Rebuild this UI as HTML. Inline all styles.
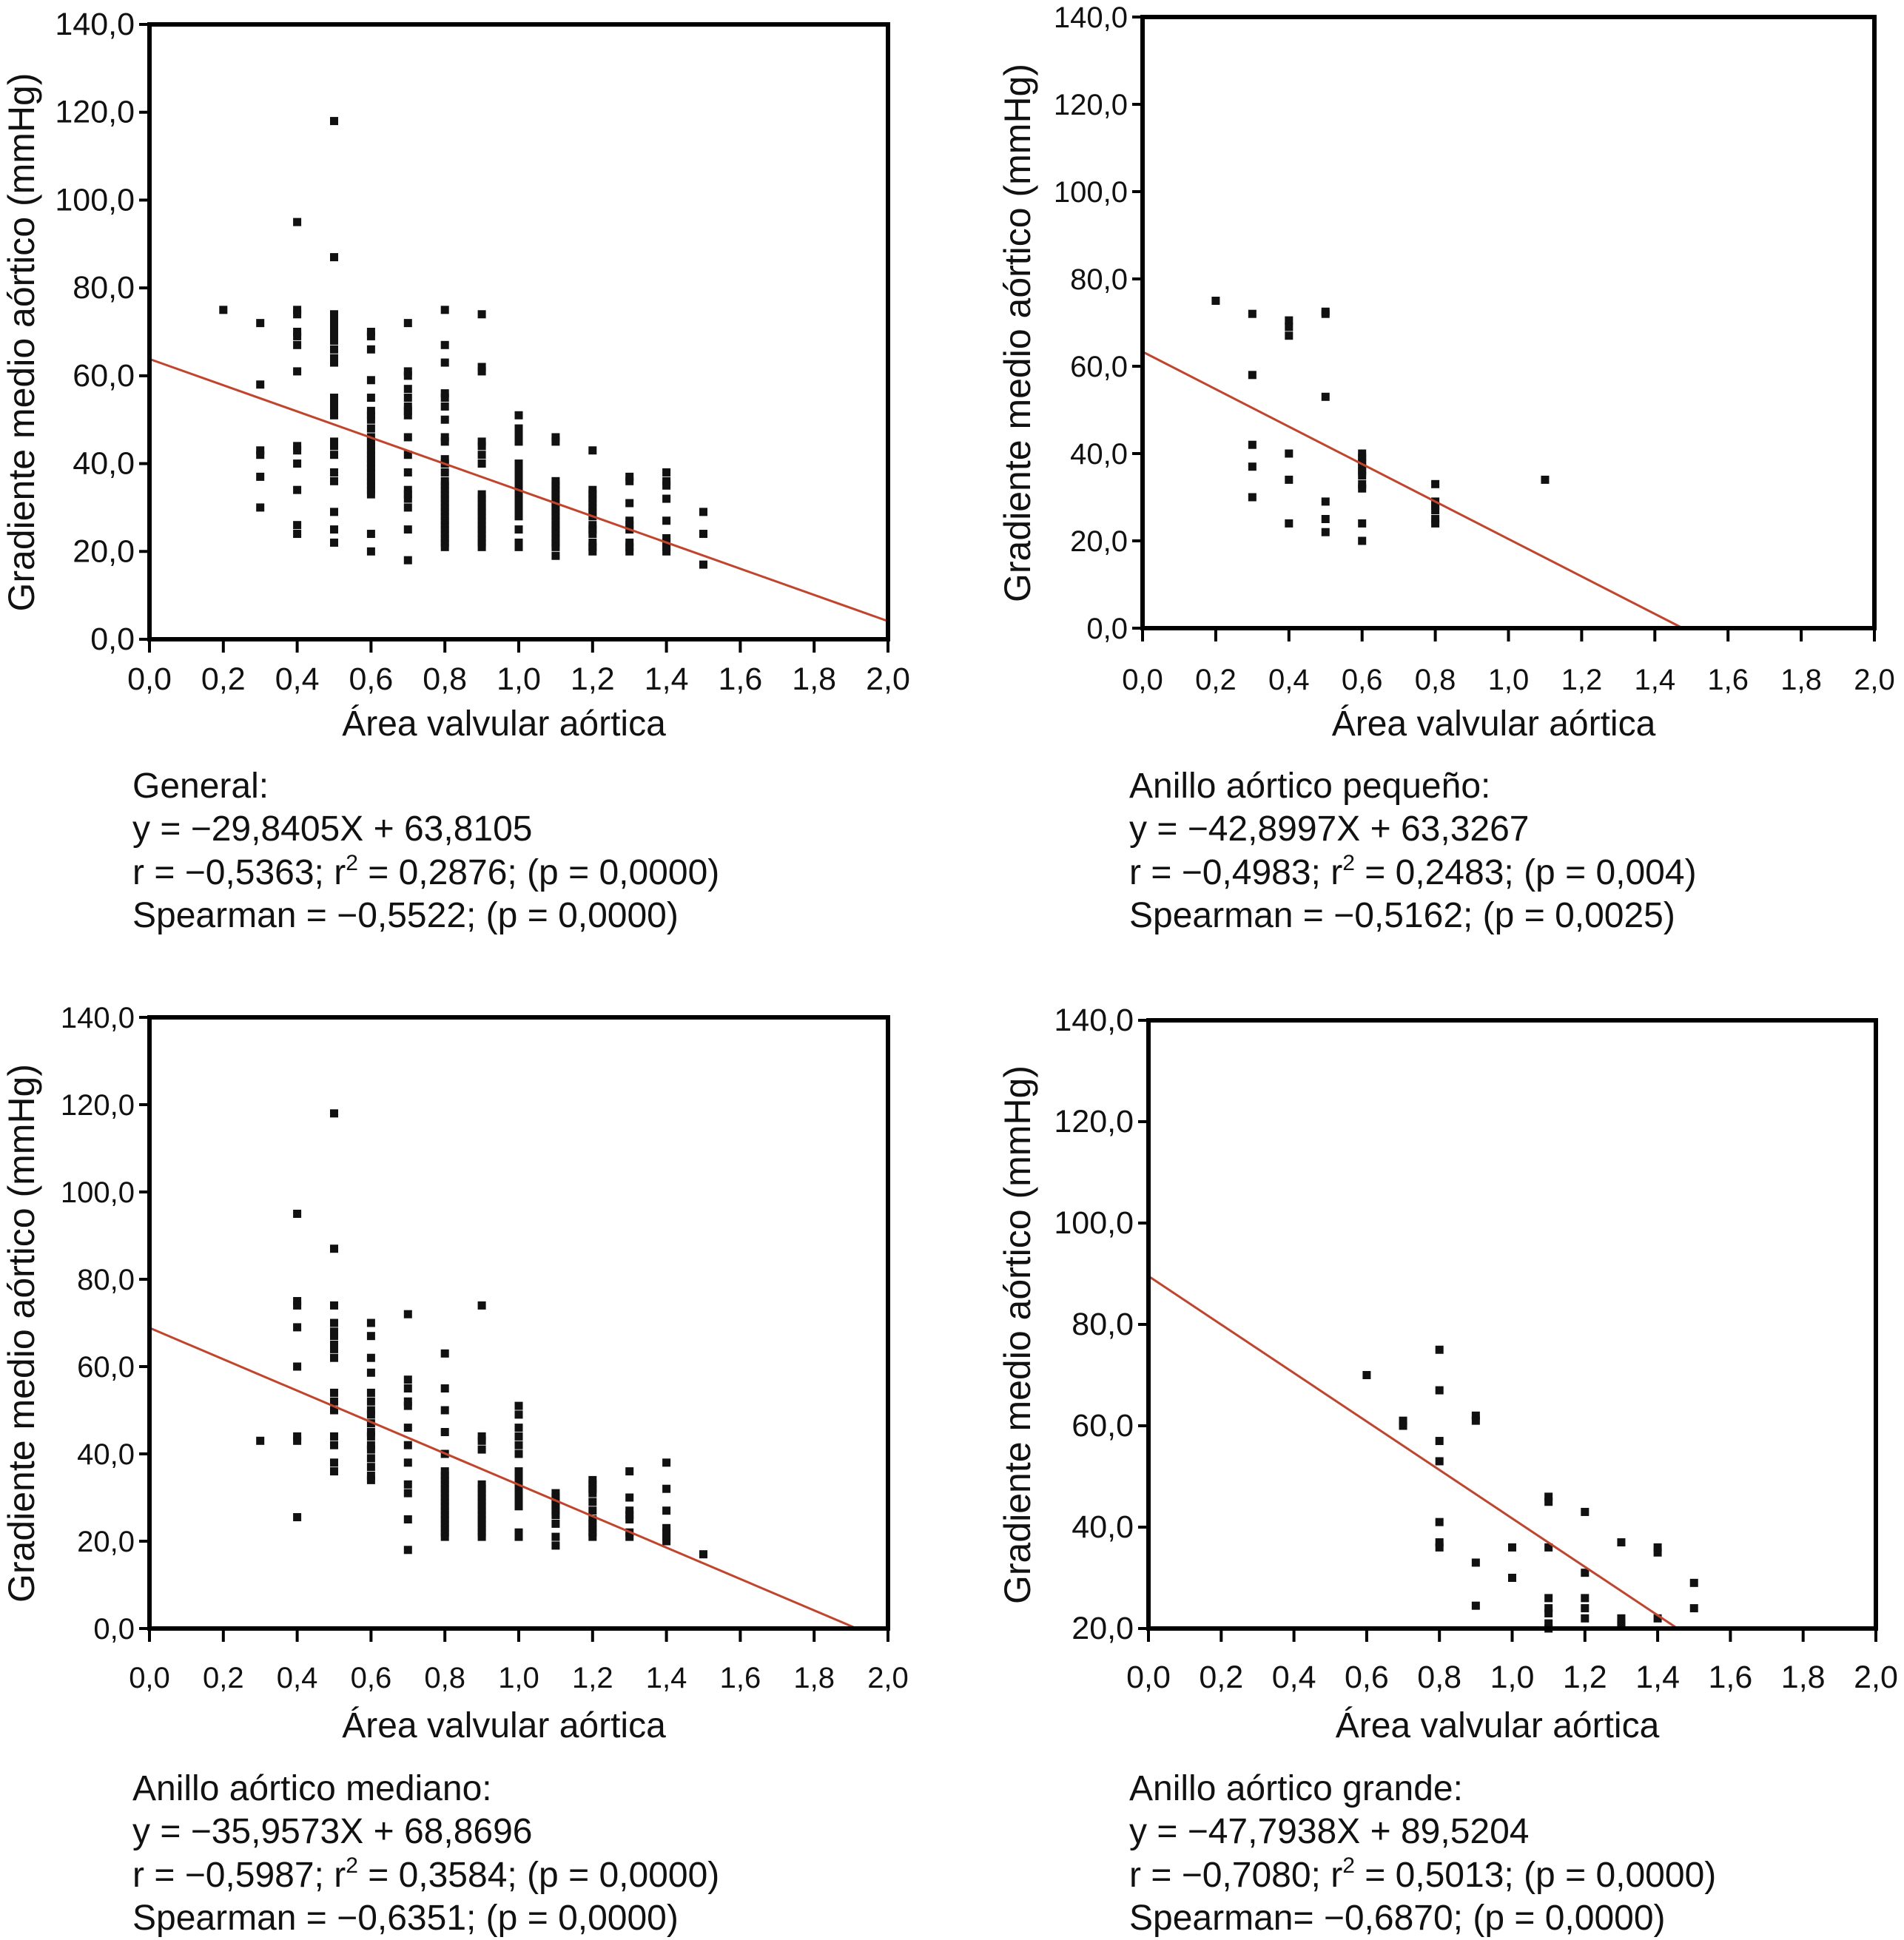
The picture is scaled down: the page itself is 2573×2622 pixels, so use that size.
<!DOCTYPE html>
<html><head><meta charset="utf-8">
<style>
html,body{margin:0;padding:0;background:#fff;}
svg{display:block;font-family:"Liberation Sans",Arial,sans-serif;}
.cap{font-size:48px;fill:#111;}
</style></head>
<body>
<svg id="fig" width="2573" height="2622" viewBox="0 0 2573 2622" xmlns="http://www.w3.org/2000/svg">
<g>
<text class="cap" x="179" y="1078">General:</text>
<text class="cap" x="179" y="1136">y = −29,8405X + 63,8105</text>
<text class="cap" x="179" y="1195">r = −0,5363; r<tspan dy="-19" font-size="30">2</tspan><tspan dy="19"> = 0,2876; (p = 0,0000)</tspan></text>
<text class="cap" x="179" y="1253">Spearman = −0,5522; (p = 0,0000)</text>
</g>
<g>
<text class="cap" x="1526" y="1078">Anillo aórtico pequeño:</text>
<text class="cap" x="1526" y="1136">y = −42,8997X + 63,3267</text>
<text class="cap" x="1526" y="1195">r = −0,4983; r<tspan dy="-19" font-size="30">2</tspan><tspan dy="19"> = 0,2483; (p = 0,004)</tspan></text>
<text class="cap" x="1526" y="1253">Spearman = −0,5162; (p = 0,0025)</text>
</g>
<g>
<text class="cap" x="179" y="2433">Anillo aórtico mediano:</text>
<text class="cap" x="179" y="2491">y = −35,9573X + 68,8696</text>
<text class="cap" x="179" y="2550">r = −0,5987; r<tspan dy="-19" font-size="30">2</tspan><tspan dy="19"> = 0,3584; (p = 0,0000)</tspan></text>
<text class="cap" x="179" y="2608">Spearman = −0,6351; (p = 0,0000)</text>
</g>
<g>
<text class="cap" x="1526" y="2433">Anillo aórtico grande:</text>
<text class="cap" x="1526" y="2491">y = −47,7938X + 89,5204</text>
<text class="cap" x="1526" y="2550">r = −0,7080; r<tspan dy="-19" font-size="30">2</tspan><tspan dy="19"> = 0,5013; (p = 0,0000)</tspan></text>
<text class="cap" x="1526" y="2608">Spearman= −0,6870; (p = 0,0000)</text>
</g>
</svg>
<script>
// ---- data ----
const xTicks = [0,0.2,0.4,0.6,0.8,1.0,1.2,1.4,1.6,1.8,2.0];
const xTickLabels = ["0,0","0,2","0,4","0,6","0,8","1,0","1,2","1,4","1,6","1,8","2,0"];
const yTicksFull = [0,20,40,60,80,100,120,140];
const yTickLabelsFull = ["0,0","20,0","40,0","60,0","80,0","100,0","120,0","140,0"];
const yTicksLarge = [20,40,60,80,100,120,140];
const yTickLabelsLarge = ["20,0","40,0","60,0","80,0","100,0","120,0","140,0"];

const generalX = [0.2,0.3,0.4,0.5,0.6,0.7,0.8,0.9,1.0,1.1,1.2,1.3,1.4,1.5];
const generalY = [
 [75],
 [72,58,43,42,37,30],
 [95,75,74,70,69,67,61,44,43,40,34,26,24],
 [118,87,74,73,72,71,70,69,68,66,64,63,55,54,53,52,51,45,44,42,38,36,29,25,22],
 [70,69,66,59,55,52,51,50,48,46,45,44,43,42,41,40,39,38,37,36,35,34,33,24,20],
 [72,61,60,57,55,53,52,51,46,42,38,34,33,32,30,25,18],
 [75,67,63,56,55,53,50,46,45,41,40,38,36,35,34,33,32,31,30,29,28,27,26,25,24,23,22,21],
 [74,62,61,45,44,42,40,33,32,31,30,29,28,27,26,25,24,23,22,21],
 [51,48,47,46,45,40,39,38,37,36,35,34,33,32,31,30,29,28,25,22,21],
 [46,45,36,35,34,33,32,31,30,29,28,27,26,25,24,23,22,21,19],
 [43,34,33,32,31,30,29,28,26,25,24,22,21,20],
 [37,36,31,27,26,25,22,21,20],
 [38,36,35,32,27,23,22,21,20],
 [29,24,17]
];
const pequenoX = [0.2,0.3,0.4,0.5,0.6,0.8,1.1];
const pequenoY = [
 [75],
 [72,58,42,37,30],
 [70.5,69,67,40,34,24],
 [72.5,72,53,29,25,22],
 [40,39,38,37,36,35,33,32,24,20],
 [33,29,28,27,25,24],
 [34]
];
const medianoX = [0.3,0.4,0.5,0.6,0.7,0.8,0.9,1.0,1.1,1.2,1.3,1.4,1.5];
const medianoY = [
 [43],
 [95,75,74,69,60,44,43,25.5],
 [118,87,74,70,68,67,65,64,62,54,52,50,44,42,38,36],
 [70,67,62,58.6,54,52,50,49,47,45,44,42,41,39,37,35,34],
 [72,57,55,52,51,46,42,38,33,31,25,18],
 [63,55,50,45,40,36,35,34,33,32,31,30,29,28,27,26,25,24,23,22,21],
 [74,44,43,41,33,32,31,30,29,28,27,26,25,24,23,22,21],
 [51,49,46,44,42,40,36,35,34,33,32,31,30,29,28,22,21],
 [31,30,29,28,27,26,24,21,19],
 [34,33,32,31,29,27,25,24,23,22,21],
 [36,30,27,26,25,22,21],
 [38,32,27,23,22,21,20],
 [17]
];
const grandeX = [0.6,0.7,0.8,0.9,1.0,1.1,1.2,1.3,1.4,1.5];
const grandeY = [
 [70],
 [61,60],
 [75,67,57,53,41,37,36],
 [62,61,33,24.5],
 [36,30],
 [46,45,36,26,24,23,21,20],
 [43,31,26,24,22],
 [37,22,21,20.5],
 [36,35,22],
 [29,24]
];
const slopes = [-29.8405,-42.8997,-35.9573,-47.7938];
const intercepts = [63.8105,63.3267,68.8696,89.5204];

// ---- drawing ----
const NS="http://www.w3.org/2000/svg";
const svg=document.getElementById('fig');
function mk(tag,attrs,parent){const e=document.createElementNS(NS,tag);for(const k in attrs)e.setAttribute(k,attrs[k]);(parent||svg).appendChild(e);return e;}

function drawPlot(name,box,yMin,yTicks,yLabels,xs,ys,slope,icpt,condensed,ytitleX,xlabY,xtitleY){
  const g=mk('g',{});
  
  
  const sx=v=>box.x0+(v-0)/2*(box.x1-box.x0);
  const sy=v=>box.y1-(v-yMin)/(140-yMin)*(box.y1-box.y0);
  const pts=mk('g',{fill:'#111'},g);
  
  
  xs.forEach((xv,i)=>{ys[i].forEach(yv=>{
    if(yv<yMin) return;
    const r=mk('rect',{x:sx(xv)-5.5,y:sy(yv)-5.5,width:11,height:11},pts);
    
    
  });});
  let xa=0,xb=2,ya=icpt+slope*xa,yb=icpt+slope*xb;
  if(yb<yMin){xb=(yMin-icpt)/slope;yb=yMin;}
  const ln=mk('line',{x1:sx(xa),y1:sy(ya),x2:sx(xb),y2:sy(yb),stroke:'#c2442c','stroke-width':3},g);
  
  
  const fr=mk('rect',{x:box.x0,y:box.y0,width:box.x1-box.x0,height:box.y1-box.y0,fill:'none',stroke:'#000','stroke-width':6},g);
  
  
  const tf=condensed?'Liberation Sans Narrow, Liberation Sans, sans-serif':'Liberation Sans, sans-serif';
  const tfs=condensed?43:40;
  const yax=mk('g',{},g);
  
  
  yTicks.forEach((t,i)=>{
    mk('line',{x1:box.x0-14,x2:box.x0,y1:sy(t),y2:sy(t),stroke:'#000','stroke-width':4},yax);
    const tx=mk('text',{x:box.x0-20,y:sy(t)+14,'text-anchor':'end','font-size':tfs,'font-family':tf,fill:'#111'},yax);
    
    
    tx.textContent=yLabels[i];
  });
  const xax=mk('g',{},g);
  
  
  xTicks.forEach((t,i)=>{
    mk('line',{x1:sx(t),x2:sx(t),y1:box.y1,y2:box.y1+18,stroke:'#000','stroke-width':4},xax);
    const tx=mk('text',{x:sx(t),y:xlabY,'text-anchor':'middle','font-size':tfs,'font-family':tf,fill:'#111'},xax);
    
    
    tx.textContent=xTickLabels[i];
  });
  const xt=mk('text',{x:(box.x0+box.x1)/2-20,y:xtitleY,'text-anchor':'middle','font-size':48,fill:'#111'},g);
  
  
  xt.textContent='Área valvular aórtica';
  const cy=(box.y0+box.y1)/2+14;
  const yt=mk('text',{x:ytitleX,y:cy,'text-anchor':'middle','font-size':50,fill:'#111',transform:`rotate(-90 ${ytitleX} ${cy})`},g);
  
  
  yt.textContent='Gradiente medio aórtico (mmHg)';
}
drawPlot('plot-general',{x0:202,x1:1200,y0:33,y1:864},0,yTicksFull,yTickLabelsFull,generalX,generalY,slopes[0],intercepts[0],true,46,932,994);
drawPlot('plot-pequeno',{x0:1544,x1:2533,y0:23,y1:849},0,yTicksFull,yTickLabelsFull,pequenoX,pequenoY,slopes[1],intercepts[1],false,1392,932,994);
drawPlot('plot-mediano',{x0:202,x1:1200,y0:1375,y1:2201},0,yTicksFull,yTickLabelsFull,medianoX,medianoY,slopes[2],intercepts[2],false,46,2281,2348);
drawPlot('plot-grande',{x0:1552,x1:2535,y0:1379,y1:2201},20,yTicksLarge,yTickLabelsLarge,grandeX,grandeY,slopes[3],intercepts[3],true,1392,2281,2348);
</script>
</body></html>
